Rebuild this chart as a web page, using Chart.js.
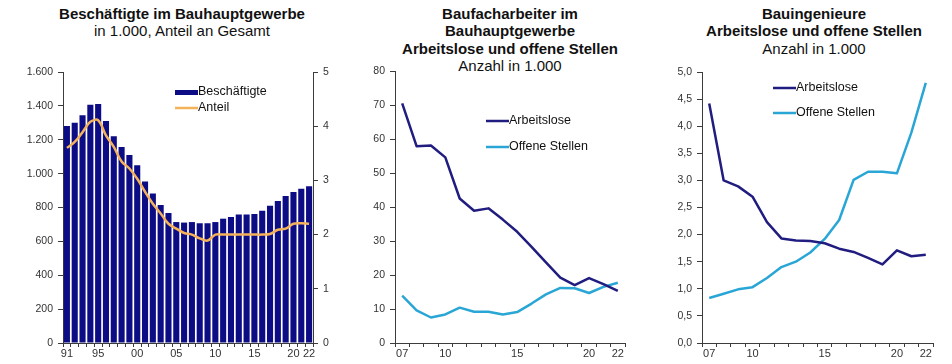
<!DOCTYPE html>
<html lang="de">
<head>
<meta charset="utf-8">
<title>Bauarbeitsmarkt</title>
<script src="https://cdn.jsdelivr.net/npm/chart.js@4/dist/chart.umd.min.js"></script>
<style>
  html, body { margin: 0; padding: 0; background: #fff; }
  body { width: 952px; height: 364px; position: relative; overflow: hidden;
         font-family: "Liberation Sans", Arial, sans-serif; color: #111; }
  .panel { position: absolute; top: 0; height: 364px; }
  .panel canvas { display: block; }
  .title { position: absolute; top: 5px; width: 320px; text-align: center;
           font-size: 15px; line-height: 17.3px; white-space: nowrap; }
  .title b { font-weight: bold; }
</style>
</head>
<body>
<div class="title" style="left:22px"><b>Beschäftigte im Bauhauptgewerbe</b><br>in 1.000, Anteil an Gesamt</div>
<div class="title" style="left:350px"><b>Baufacharbeiter im</b><br><b>Bauhauptgewerbe</b><br><b>Arbeitslose und offene Stellen</b><br>Anzahl in 1.000</div>
<div class="title" style="left:654px"><b>Bauingenieure</b><br><b>Arbeitslose und offene Stellen</b><br>Anzahl in 1.000</div>

<div class="panel" style="left:0;width:340px"><canvas id="c1" width="340" height="364"></canvas></div>
<div class="panel" style="left:320px;width:320px"><canvas id="c2" width="320" height="364"></canvas></div>
<div class="panel" style="left:640px;width:312px"><canvas id="c3" width="312" height="364"></canvas></div>

<script>
// ---- Beschäftigte im Bauhauptgewerbe (1991-2022) ----
const years1 = ['91','92','93','94','95','96','97','98','99','00','01','02','03','04','05','06',
                '07','08','09','10','11','12','13','14','15','16','17','18','19','20','21','22'];
const yearLabels1 = ['91','95','00','05','10','15','20','22'];
const beschaeftigte = [1281,1301,1344,1407,1411,1311,1220,1157,1110,1049,953,882,815,768,714,711,
                       714,707,707,714,734,744,758,758,762,781,811,838,868,892,911,925];
const anteil = [3.60,3.71,3.89,4.08,4.11,3.83,3.62,3.35,3.22,3.03,2.79,2.57,2.39,2.20,2.11,2.03,
                2.00,1.93,1.89,2.00,2.00,2.00,2.00,2.00,2.00,2.00,2.01,2.09,2.11,2.20,2.21,2.20];

// ---- Baufacharbeiter: Arbeitslose und offene Stellen (2007-2022) ----
const years2 = ['07','08','09','10','11','12','13','14','15','16','17','18','19','20','21','22'];
const yearLabels2 = ['07','10','15','20','22'];
const arbeitsloseFach = [70.5,57.9,58.1,54.6,42.5,38.9,39.6,36.3,32.7,28.3,23.7,19.2,17.0,19.1,17.3,15.3];
const offeneFach = [13.9,9.6,7.5,8.4,10.4,9.2,9.2,8.4,9.1,11.6,14.3,16.2,16.1,14.7,16.5,17.7];

// ---- Bauingenieure: Arbeitslose und offene Stellen (2007-2022) ----
const arbeitsloseIng = [4.42,3.00,2.89,2.70,2.23,1.93,1.89,1.88,1.84,1.74,1.68,1.57,1.45,1.71,1.60,1.63];
const offeneIng = [0.83,0.91,0.99,1.03,1.20,1.40,1.50,1.67,1.92,2.27,3.01,3.16,3.16,3.13,3.88,4.80];

const NAVY = '#0c0c85';
const DARK_LINE = '#211d80';
const LIGHT_BLUE = '#2aa6d6';
const ORANGE = '#f4b25a';
const AXIS = '#3c3c3c';
const TICK_TEXT = '#333333';
const FONT = '"Liberation Sans", Arial, sans-serif';

Chart.defaults.font.family = FONT;
Chart.defaults.animation = false;

const fmtThousands = v => String(v).replace(/\B(?=(\d{3})+(?!\d))/g, '.');
const fmtDecimal = v => v.toFixed(1).replace('.', ',');

// Legend drawn inside the plot area at fixed offsets
const innerLegend = {
  id: 'innerLegend',
  afterDraw(chart, args, opts) {
    const ctx = chart.ctx;
    ctx.save();
    ctx.font = '12.5px ' + FONT;
    ctx.textBaseline = 'middle';
    opts.items.forEach(it => {
      const ds = chart.data.datasets[it.dataset];
      if (ds.type === 'bar') {
        ctx.fillStyle = ds.backgroundColor;
        ctx.fillRect(it.x, it.y - 2, 23, 5);
      } else {
        ctx.strokeStyle = ds.borderColor;
        ctx.lineWidth = ds.borderWidth;
        ctx.beginPath();
        ctx.moveTo(it.x, it.y);
        ctx.lineTo(it.x + 23, it.y);
        ctx.stroke();
      }
      ctx.fillStyle = '#111';
      ctx.fillText(ds.label, it.x + 23, it.y);
    });
    ctx.restore();
  }
};

function fixWidth(w) { return scale => { scale.width = w; }; }
function fixHeight(h) { return scale => { scale.height = h; }; }

function xAxis(shown) {
  return {
    type: 'category',
    offset: true,
    grid: { offset: true, drawOnChartArea: false, drawTicks: true, tickLength: 4, color: AXIS, lineWidth: 1 },
    border: { display: true, color: AXIS, width: 1 },
    ticks: {
      autoSkip: false, maxRotation: 0, minRotation: 0, padding: 0,
      color: TICK_TEXT, font: { size: 11 },
      callback(v) { const l = this.getLabelForValue(v); return shown.includes(l) ? l : ''; }
    },
    afterFit: fixHeight(21)
  };
}

function yAxis(pos, min, max, step, fmt, width) {
  return {
    position: pos, min, max,
    grid: { drawOnChartArea: false, drawTicks: true, tickLength: 5, color: AXIS, lineWidth: 1 },
    border: { display: true, color: AXIS, width: 1 },
    ticks: { stepSize: step, padding: 5, color: TICK_TEXT, font: { size: 10.5 }, callback: v => fmt(v) },
    afterFit: fixWidth(width)
  };
}

// Chart 1: bars with share line on secondary axis
new Chart(document.getElementById('c1'), {
  type: 'bar',
  data: {
    labels: years1,
    datasets: [
      { type: 'line', label: 'Anteil', data: anteil, yAxisID: 'y2', order: 0,
        borderColor: ORANGE, borderWidth: 2.5, pointRadius: 0, tension: 0.35, fill: false },
      { type: 'bar', label: 'Beschäftigte', data: beschaeftigte, yAxisID: 'y', order: 1,
        backgroundColor: NAVY, barPercentage: 0.78, categoryPercentage: 1.0 }
    ]
  },
  options: {
    responsive: false,
    layout: { padding: { top: 72, left: 0, right: 0, bottom: 0 } },
    plugins: {
      legend: { display: false }, tooltip: { enabled: false },
      innerLegend: { items: [ { dataset: 1, x: 175, y: 92 }, { dataset: 0, x: 175, y: 108 } ] }
    },
    scales: {
      x: xAxis(yearLabels1),
      y: yAxis('left', 0, 1600, 200, fmtThousands, 63),
      y2: yAxis('right', 0, 5, 1, v => String(v), 27)
    }
  },
  plugins: [innerLegend]
});

// Chart 2: Baufacharbeiter
new Chart(document.getElementById('c2'), {
  type: 'line',
  data: {
    labels: years2,
    datasets: [
      { label: 'Arbeitslose', data: arbeitsloseFach, borderColor: DARK_LINE, borderWidth: 2.5,
        pointRadius: 0, tension: 0, borderJoinStyle: 'round' },
      { label: 'Offene Stellen', data: offeneFach, borderColor: LIGHT_BLUE, borderWidth: 2.5,
        pointRadius: 0, tension: 0, borderJoinStyle: 'round' }
    ]
  },
  options: {
    responsive: false,
    layout: { padding: { top: 71, left: 0, right: 15, bottom: 0 } },
    plugins: {
      legend: { display: false }, tooltip: { enabled: false },
      innerLegend: { items: [ { dataset: 0, x: 166, y: 121 }, { dataset: 1, x: 166, y: 147 } ] }
    },
    scales: {
      x: xAxis(yearLabels2),
      y: yAxis('left', 0, 80, 10, v => String(v), 75)
    }
  },
  plugins: [innerLegend]
});

// Chart 3: Bauingenieure
new Chart(document.getElementById('c3'), {
  type: 'line',
  data: {
    labels: years2,
    datasets: [
      { label: 'Arbeitslose', data: arbeitsloseIng, borderColor: DARK_LINE, borderWidth: 2.5,
        pointRadius: 0, tension: 0, borderJoinStyle: 'round' },
      { label: 'Offene Stellen', data: offeneIng, borderColor: LIGHT_BLUE, borderWidth: 2.5,
        pointRadius: 0, tension: 0, borderJoinStyle: 'round' }
    ]
  },
  options: {
    responsive: false,
    layout: { padding: { top: 72, left: 0, right: 19, bottom: 0 } },
    plugins: {
      legend: { display: false }, tooltip: { enabled: false },
      innerLegend: { items: [ { dataset: 0, x: 133, y: 88 }, { dataset: 1, x: 133, y: 113 } ] }
    },
    scales: {
      x: xAxis(yearLabels2),
      y: yAxis('left', 0, 5, 0.5, fmtDecimal, 62)
    }
  },
  plugins: [innerLegend]
});
</script>
</body>
</html>
